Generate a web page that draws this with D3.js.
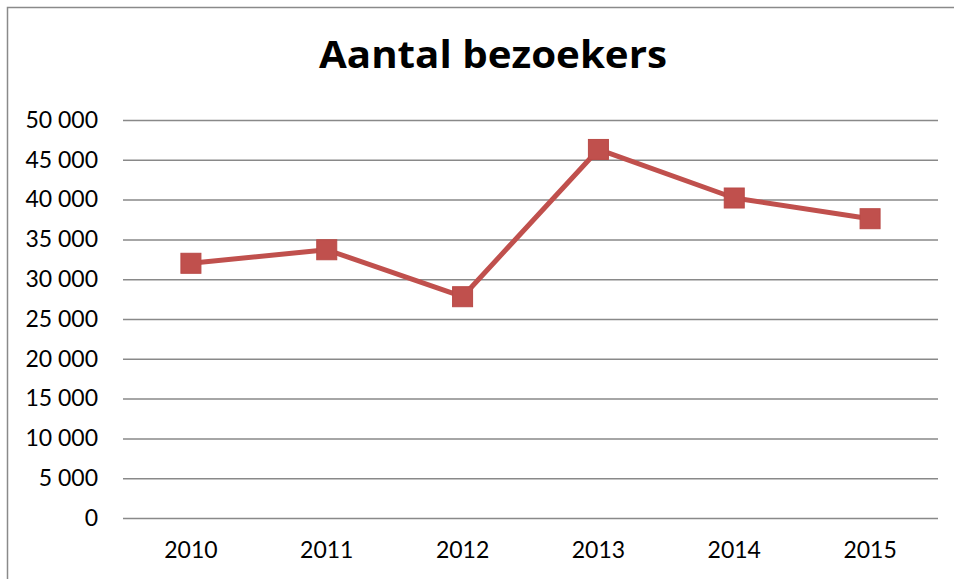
<!DOCTYPE html>
<html>
<head>
<meta charset="utf-8">
<script src="https://cdn.jsdelivr.net/npm/d3@7"></script>
<style>
  body { margin: 0; background: #fff; }
  svg { display: block; }
</style>
</head>
<body>
<svg id="chart" width="954" height="579"></svg>
<script>
// chart data
const years = ['2010', '2011', '2012', '2013', '2014', '2015'];
const visitors = [32000, 33700, 27800, 46300, 40200, 37600];
const yTicks = [0, 5000, 10000, 15000, 20000, 25000, 30000, 35000, 40000, 45000, 50000];
const title = 'Aantal bezoekers';

const width = 954;
const height = 579;
const margin = { top: 120, right: 16, bottom: 61, left: 123 };
const innerWidth = width - margin.left - margin.right;
const innerHeight = height - margin.top - margin.bottom;
const font = 'Lato, "Open Sans", sans-serif';
const red = '#c0504d';

const svg = d3.select('#chart');

// outer frame: only its top and left edges fall inside the picture
svg.append('path')
  .attr('d', `M7.5,${height}V7.5H${width}`)
  .attr('fill', 'none')
  .attr('stroke', '#8a8a8a')
  .attr('stroke-width', 1.5);

svg.append('text')
  .attr('x', 493)
  .attr('y', 68)
  .attr('text-anchor', 'middle')
  .attr('font-family', '"Open Sans", Lato, sans-serif')
  .attr('font-weight', 'bold')
  .attr('font-size', '37px')
  .attr('textLength', 348)
  .attr('lengthAdjust', 'spacingAndGlyphs')
  .attr('fill', '#000')
  .text(title);

const g = svg.append('g')
  .attr('transform', `translate(${margin.left},${margin.top})`);

const xScale = d3.scaleBand()
  .domain(years)
  .range([0, innerWidth]);

const yScale = d3.scaleLinear()
  .domain([0, 50000])
  .range([innerHeight, 0]);

// gridlines (no labels on this one)
const grid = g.append('g')
  .call(d3.axisLeft(yScale).tickValues(yTicks).tickSize(-innerWidth).tickFormat(''));
grid.select('.domain').remove();
grid.selectAll('text').remove();
grid.selectAll('line')
  .attr('stroke', '#898989')
  .attr('stroke-width', 1.5);

// y labels
const yAxis = g.append('g')
  .call(d3.axisLeft(yScale).tickValues(yTicks).tickSize(0).tickPadding(25)
    .tickFormat(d => d3.format(',')(d).replace(/,/g, ' ')));
yAxis.select('.domain').remove();
yAxis.selectAll('text')
  .attr('font-family', font)
  .attr('font-size', '23px')
  .attr('fill', '#000');

// x labels
const xAxis = g.append('g')
  .attr('transform', `translate(0,${innerHeight})`)
  .call(d3.axisBottom(xScale).tickSize(0).tickPadding(24));
xAxis.select('.domain').remove();
xAxis.selectAll('text')
  .attr('font-family', font)
  .attr('font-size', '23px')
  .attr('fill', '#000');

const points = years.map((y, i) => ({ year: y, value: visitors[i] }));
const cx = d => xScale(d.year) + xScale.bandwidth() / 2;

g.append('path')
  .datum(points)
  .attr('fill', 'none')
  .attr('stroke', red)
  .attr('stroke-width', 5)
  .attr('stroke-linejoin', 'round')
  .attr('d', d3.line().x(cx).y(d => yScale(d.value)));

const size = 20;
g.selectAll('rect.marker')
  .data(points)
  .enter()
  .append('rect')
  .attr('class', 'marker')
  .attr('x', d => cx(d) - size / 2)
  .attr('y', d => yScale(d.value) - size / 2)
  .attr('width', size)
  .attr('height', size)
  .attr('fill', red)
  .attr('stroke', '#b94a47')
  .attr('stroke-width', 1);
</script>
</body>
</html>
